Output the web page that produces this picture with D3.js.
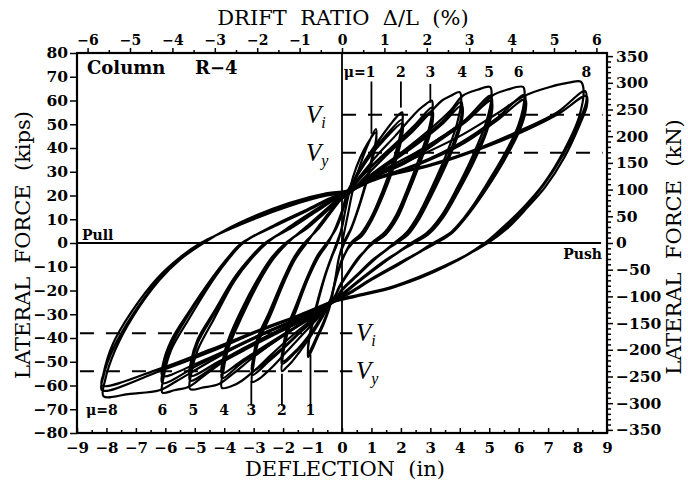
<!DOCTYPE html>
<html>
<head>
<meta charset="utf-8">
<script src="https://cdn.jsdelivr.net/npm/d3@7"></script>
<style>
  html, body { margin: 0; padding: 0; background: #fff; }
  svg { display: block; }
  text { fill: #000; }
</style>
</head>
<body>
<svg id="chart" width="688" height="485"></svg>
<script>
// ---- axis values ----
const deflectionTicks = [-9, -8, -7, -6, -5, -4, -3, -2, -1, 0, 1, 2, 3, 4, 5, 6, 7, 8, 9];
const forceTicks = [-80, -70, -60, -50, -40, -30, -20, -10, 0, 10, 20, 30, 40, 50, 60, 70, 80];
const driftTicks = [-6, -5, -4, -3, -2, -1, 0, 1, 2, 3, 4, 5, 6];
const kNLabels = [-350, -300, -250, -200, -150, -100, -50, 0, 50, 100, 150, 200, 250, 300, 350];
const columnHeight = 144;   // in, converts drift ratio to deflection
const kNPerKip = 4.448;

// ---- reference force levels (kips) ----
const pushLevels = [{ name: "i", force: 54 }, { name: "y", force: 38 }];
const pullLevels = [{ name: "i", force: -38 }, { name: "y", force: -54 }];

// ---- ductility markers: label position (in), marker line top/bottom force (kips) ----
const pushDuctility = [
  { label: "μ=1", d: 1.0, from: 68, to: 46 },
  { label: "2", d: 2.0, from: 68, to: 57 },
  { label: "3", d: 3.0, from: 67, to: 59 },
  { label: "4", d: 4.08 }, { label: "5", d: 5.0 }, { label: "6", d: 6.0 }, { label: "8", d: 8.3 }
];
const pullDuctility = [
  { label: "μ=8", d: -7.75 }, { label: "6", d: -6.1 }, { label: "5", d: -5.05 }, { label: "4", d: -4.0 },
  { label: "3", d: -3.08, from: -58, to: -68.5 },
  { label: "2", d: -2.04, from: -55, to: -68.5 },
  { label: "1", d: -1.07, from: -47, to: -68.5 }
];

// ---- load history [deflection (in), lateral force (kips)] ----
const cyclesMu1 = [
  [0,0],[0.2,12],[0.4,24],[0.65,34],[0.9,42],[1.15,48],
  [1.16,44],[1.02,36],[0.82,26],[0.56,15],[0.3,6],[0.05,0],[-0.1,-6],[-0.2,-13],[-0.3,-20],[-0.42,-27],
  [-0.62,-34],[-0.84,-40],[-1.0,-44.5],[-1.15,-48],
  [-1.13,-42],[-1.0,-34],[-0.8,-24],[-0.55,-13],[-0.35,-6],[-0.15,0],[0,7],[0.1,13],[0.22,20],
  [0.38,28],[0.62,36],[0.87,42],[1.15,46.5],
  [1.16,42.5],[1.02,34.5],[0.82,25],[0.56,14.5],[0.3,5.5],[0.08,0],[-0.1,-6],[-0.2,-13],[-0.3,-20],[-0.42,-26.5],
  [-0.62,-33],[-0.86,-39.5],[-1.15,-46.5],
  [-1.13,-41],[-1.0,-33],[-0.8,-23],[-0.55,-12.5],[-0.35,-5.5],[-0.18,0],[0,6.5],[0.1,13],[0.2,20]
];
const cyclesMu2 = [
  [0.5,29],[0.95,38],[1.35,45],[1.65,50],[1.85,53],[2.04,55],
  [2.06,52],[1.95,44],[1.7,33],[1.35,21],[1.0,11],[0.65,4],[0.3,0],[0.05,-6],[-0.15,-13],[-0.3,-20],[-0.4,-25],
  [-0.7,-32],[-1.1,-40],[-1.45,-46],[-1.7,-50],[-1.9,-52.5],[-2.04,-54],
  [-2.0,-47],[-1.85,-38],[-1.55,-28],[-1.15,-15],[-0.8,-6],[-0.47,0],[-0.2,7],[0,13.5],[0.1,18],[0.2,22],
  [0.5,28.5],[0.95,37],[1.4,44],[2.04,52],
  [2.06,49.5],[1.96,42],[1.72,32],[1.37,20],[1.02,10.5],[0.67,3.5],[0.33,0],[0.05,-6],[-0.15,-13],[-0.3,-20],[-0.4,-24.5],
  [-0.7,-31.5],[-1.1,-39],[-1.5,-45],[-2.04,-51],
  [-2.0,-45],[-1.86,-37],[-1.56,-27],[-1.16,-14.5],[-0.81,-5.5],[-0.5,0],[-0.2,6.5],[0,13],[0.1,17.5],[0.2,21.5],
  [0.5,28],[0.95,36.5],[1.4,43],[2.05,50.5],
  [2.07,48],[1.97,41],[1.73,31],[1.38,19.5],[1.03,10],[0.68,3],[0.36,0],[0.05,-5.5],[-0.15,-12.5],[-0.3,-19.5],[-0.4,-24],
  [-0.7,-31],[-1.1,-38.5],[-1.5,-44.5],[-2.04,-50],
  [-2.0,-44],[-1.87,-36],[-1.57,-26.5],[-1.17,-14],[-0.82,-5],[-0.52,0],[-0.2,6],[0,12.5],[0.1,17],[0.15,21]
];
const cyclesMu3 = [
  [0.6,28],[1.2,37],[1.8,45],[2.3,52],[2.6,56],[2.85,58.5],[3.05,60],
  [3.08,57],[2.95,48],[2.6,35],[2.2,22],[1.85,12],[1.45,4.5],[1.0,0],[0.6,-6],[0.2,-13],[-0.1,-19],[-0.25,-23],
  [-0.7,-30],[-1.3,-38],[-1.9,-46],[-2.35,-52],[-2.65,-55.5],[-2.85,-57.5],[-3.05,-58.5],
  [-3.0,-51],[-2.85,-42],[-2.45,-31],[-1.95,-16],[-1.6,-7],[-1.2,0],[-0.8,7],[-0.4,13.5],[-0.05,19],[0.15,21],
  [0.6,27.5],[1.3,36],[2.0,44],[2.5,50],[3.05,57],
  [3.08,54],[2.96,46],[2.62,33.5],[2.22,21],[1.87,11],[1.47,4],[1.05,0],[0.6,-6],[0.2,-13],[-0.1,-19],[-0.25,-23],
  [-0.7,-29.5],[-1.4,-37.5],[-2.0,-44.5],[-2.5,-50],[-3.05,-55.6],
  [-3.0,-49],[-2.86,-40.5],[-2.46,-29.5],[-1.96,-15],[-1.62,-6.5],[-1.25,0],[-0.8,6.5],[-0.4,13],[-0.05,18.5],[0.15,20.5],
  [0.6,27],[1.3,35.5],[2.0,43],[2.5,49],[3.07,55.5],
  [3.09,52.5],[2.97,45],[2.63,33],[2.23,20.5],[1.88,10.5],[1.48,3.5],[1.08,0],[0.6,-5.5],[0.2,-12.5],[-0.1,-18.5],[-0.25,-22.5],
  [-0.7,-29],[-1.4,-37],[-2.0,-44],[-2.5,-49],[-3.05,-54],
  [-3.01,-48],[-2.87,-40],[-2.47,-29],[-1.97,-14.5],[-1.63,-6],[-1.28,0],[-0.8,6],[-0.4,12.5],[-0.05,18],[0.15,20]
];
const cyclesMu4 = [
  [0.8,28],[1.6,38],[2.4,47],[3.0,55],[3.4,60],[3.7,62],[4.0,63.5],
  [4.05,60],[3.9,50],[3.5,36],[3.0,22],[2.6,12],[2.2,4.5],[1.77,0],[1.1,-7],[0.5,-14],[0,-20],[-0.2,-23.5],
  [-0.8,-30],[-1.6,-38],[-2.4,-47],[-3.0,-54],[-3.4,-58],[-3.7,-60],[-4.08,-61],
  [-4.03,-54],[-3.85,-44],[-3.4,-31],[-2.8,-16],[-2.35,-7],[-1.85,0],[-1.2,7],[-0.6,13.5],[-0.1,19],[0.15,21],
  [0.8,27],[1.8,35.5],[2.7,44],[3.4,51],[4.05,59.5],
  [4.08,56],[3.92,47],[3.52,34],[3.02,21],[2.62,11],[2.22,4],[1.82,0],[1.1,-7],[0.5,-14],[0,-20],[-0.2,-23.5],
  [-0.8,-29.5],[-1.8,-37.5],[-2.7,-45],[-3.4,-50.5],[-4.08,-57],
  [-4.04,-51],[-3.86,-42],[-3.42,-29.5],[-2.82,-15],[-2.37,-6.5],[-1.9,0],[-1.2,6.5],[-0.6,13],[-0.1,18.5],[0.15,20.5],
  [0.8,26.5],[1.8,35],[2.7,43],[3.4,50],[4.07,58],
  [4.1,54],[3.94,45.5],[3.54,33],[3.04,20],[2.64,10.5],[2.24,3.5],[1.85,0],[1.1,-6.5],[0.5,-13.5],[0,-19.5],[-0.2,-23],
  [-0.8,-29],[-1.8,-37],[-2.7,-44],[-3.4,-49.5],[-4.08,-55],
  [-4.05,-49.5],[-3.87,-41],[-3.43,-28.5],[-2.83,-14.5],[-2.38,-6],[-1.92,0],[-1.2,6],[-0.6,12.5],[-0.1,18],[0.15,20]
];
const cyclesMu5 = [
  [0.9,28],[2.0,38],[3.0,48],[3.7,56],[4.1,62],[4.6,64.5],[5.03,65.7],
  [5.08,62],[4.9,51],[4.45,37],[3.9,23],[3.4,12],[2.9,4.5],[2.35,0],[1.5,-7.5],[0.7,-15],[0.1,-21],[-0.2,-24],
  [-1.0,-31],[-2.0,-39],[-3.0,-48],[-3.7,-55],[-4.2,-59.5],[-4.7,-60.8],[-5.16,-61.5],
  [-5.12,-55],[-4.9,-45],[-4.35,-32],[-3.65,-16],[-3.1,-7],[-2.55,0],[-1.7,7.5],[-0.9,14],[-0.2,19.5],[0.15,21],
  [0.9,27],[2.2,35],[3.3,44],[4.2,52],[5.05,62],
  [5.1,58],[4.9,48],[4.45,35],[3.9,22],[3.4,11],[2.9,4],[2.4,0],[1.5,-7.5],[0.7,-15],[0.1,-21],[-0.2,-24],
  [-1.0,-30.5],[-2.2,-38],[-3.3,-45],[-4.2,-51],[-5.16,-58],
  [-5.13,-52],[-4.9,-42],[-4.35,-30],[-3.65,-15],[-3.1,-6.5],[-2.6,0],[-1.7,7],[-0.9,13.5],[-0.2,19],[0.15,20.5],
  [0.9,26.5],[2.2,34],[3.3,43],[4.2,51],[5.07,60],
  [5.1,56],[4.92,47],[4.47,34],[3.92,21],[3.42,10.5],[2.92,3.5],[2.45,0],[1.5,-7],[0.7,-14.5],[0.1,-20.5],[-0.2,-23.5],
  [-1.0,-30],[-2.2,-37],[-3.3,-44],[-4.2,-50],[-5.16,-56],
  [-5.13,-50],[-4.9,-40.5],[-4.35,-29],[-3.65,-14.5],[-3.1,-6],[-2.62,0],[-1.7,6.5],[-0.9,13],[-0.2,18.5],[0.15,20]
];
const cyclesMu6 = [
  [1.0,28],[2.5,38],[3.8,48],[4.6,56],[5.1,62],[5.6,64.5],[6.15,65.7],
  [6.2,62],[6.0,50],[5.5,37],[4.9,24.5],[4.35,14],[3.75,5],[3.1,0],[2.0,-8.5],[1.0,-15.5],[0.3,-21],[-0.2,-24],
  [-1.2,-31],[-2.5,-39],[-3.8,-48],[-4.7,-56],[-5.2,-60.5],[-5.7,-62],[-6.1,-63],
  [-6.05,-56],[-5.8,-45],[-5.2,-32],[-4.4,-16],[-3.9,-7.5],[-3.35,0],[-2.3,7.5],[-1.2,14],[-0.3,19.5],[0.15,21],
  [1.0,26.5],[2.5,33],[4.0,42],[5.2,52],[6.2,62.3],
  [6.22,58],[6.0,48],[5.5,36],[4.9,23.5],[4.3,13],[3.7,4.5],[3.15,0],[2.0,-8.5],[1.0,-15.5],[0.3,-21],[-0.2,-24],
  [-1.2,-30.5],[-2.5,-37.5],[-3.8,-45],[-4.9,-51.5],[-6.1,-59],
  [-6.07,-53],[-5.8,-43],[-5.2,-30],[-4.4,-15],[-3.9,-7],[-3.38,0],[-2.3,7.5],[-1.2,14],[-0.3,19.5],[0.15,21],
  [1.0,26],[2.5,32.5],[4.0,41],[5.2,51],[6.22,60.5],
  [6.24,56],[6.02,47],[5.52,35],[4.92,23],[4.32,12.5],[3.72,4],[3.2,0],[2.0,-8],[1.0,-15],[0.3,-20.5],[-0.2,-23.5],
  [-1.2,-30],[-2.5,-37],[-3.8,-44.5],[-4.9,-50.5],[-6.1,-56],
  [-6.08,-51],[-5.8,-41],[-5.2,-29],[-4.4,-14.5],[-3.9,-6.5],[-3.4,0],[-2.3,7],[-1.2,13.5],[-0.3,19],[0.15,20.5]
];
const cyclesMu8 = [
  [1.0,28],[2.5,36],[4.0,45],[5.2,54],[6.2,62],[7.0,65.5],[7.7,67.5],[8.1,68],
  [8.2,65],[8.05,53],[7.5,38],[6.85,25],[6.2,15.5],[5.5,7],[4.85,0],[3.5,-10],[1.8,-18.5],[0.5,-22.5],[-0.2,-24.5],
  [-1.5,-32],[-3.0,-40],[-4.5,-50],[-5.6,-58],[-6.2,-62],[-7.2,-63.5],[-8.1,-64.5],
  [-8.05,-58],[-7.7,-45],[-7.1,-31],[-6.2,-15.6],[-5.5,-7],[-4.7,0],[-3.5,8.4],[-1.8,16.8],[-0.5,21],[0.15,22],
  [1.0,27],[3.0,33],[4.35,38.5],[5.8,46],[7.3,55],[8.25,64],
  [8.3,60],[8.05,51],[7.5,37],[6.85,24.5],[6.25,15.5],[5.55,6.5],[4.9,0],[3.5,-10],[1.8,-18],[0.5,-22.5],[-0.2,-24.5],
  [-1.5,-31],[-2.8,-37],[-4.5,-46],[-6.2,-54],[-8.15,-62],
  [-8.1,-56],[-7.75,-44],[-7.1,-30],[-6.2,-15],[-5.5,-6.5],[-4.75,0],[-3.5,8],[-1.8,16],[-0.5,20.5],[0.15,21.5],
  [1.0,26.5],[3.0,32.5],[4.35,38],[5.8,45],[7.3,54],[8.3,62],
  [8.32,58],[8.08,50],[7.55,36],[6.9,23.5],[6.3,15],[5.6,6],[4.95,0],[3.5,-9.5],[1.8,-18],[0.5,-22],[-0.2,-24],
  [-1.5,-30.5],[-2.8,-36.5],[-4.5,-45],[-6.2,-53],[-8.15,-60],
  [-8.1,-55],[-7.8,-43],[-7.15,-29],[-6.25,-14.5],[-5.5,-6],[-4.8,0],[-3.5,7.5],[-1.8,15.5],[-0.5,20],[0.1,21]
];
const loadHistory = [cyclesMu1, cyclesMu2, cyclesMu3, cyclesMu4, cyclesMu5, cyclesMu6, cyclesMu8];

// ---- layout ----
const svg = d3.select("#chart");
const plot = { left: 77, right: 607, top: 53, bottom: 433 };
const serif = "'DejaVu Serif', serif";

const x = d3.scaleLinear().domain([-9, 9]).range([plot.left, plot.right]);
const y = d3.scaleLinear().domain([-80, 80]).range([plot.bottom, plot.top]);
const xDrift = d3.scaleLinear()
  .domain([-900 / columnHeight, 900 / columnHeight]).range([plot.left, plot.right]);
const yKN = d3.scaleLinear()
  .domain([-80 * kNPerKip, 80 * kNPerKip]).range([plot.bottom, plot.top]);

const minus = v => (v < 0 ? "\u2212" + Math.abs(v) : String(v));

// ---- hysteresis loops ----
const line = d3.line()
  .x(p => x(p[0])).y(p => y(p[1]))
  .curve(d3.curveCatmullRom.alpha(0.5));

const loops = svg.append("g").attr("class", "loops");
let previous = null;
loadHistory.forEach(level => {
  const pts = previous ? [previous].concat(level) : level;
  loops.append("path")
    .attr("d", line(pts))
    .attr("fill", "none")
    .attr("stroke", "#000")
    .attr("stroke-width", 2.2)
    .attr("stroke-linejoin", "round");
  previous = level[level.length - 1];
});

// ---- zero lines ----
svg.append("line")
  .attr("x1", x(-9)).attr("x2", x(8.8)).attr("y1", y(0)).attr("y2", y(0))
  .attr("stroke", "#000").attr("stroke-width", 2);
svg.append("line")
  .attr("x1", x(0)).attr("x2", x(0)).attr("y1", y(80)).attr("y2", y(-80))
  .attr("stroke", "#000").attr("stroke-width", 1.8);

// ---- reference force levels ----
const dashed = svg.append("g").attr("stroke", "#000").attr("stroke-width", 2.2)
  .attr("stroke-dasharray", "14,12");
pushLevels.forEach(l => {
  dashed.append("line").attr("x1", x(0)).attr("x2", x(8.85))
    .attr("y1", y(l.force)).attr("y2", y(l.force));
});
pullLevels.forEach(l => {
  dashed.append("line").attr("x1", x(-8.9)).attr("x2", x(0.35))
    .attr("y1", y(l.force)).attr("y2", y(l.force));
});

function vLabel(xp, yp, sub) {
  const t = svg.append("text").attr("x", xp).attr("y", yp)
    .attr("font-family", "'Liberation Serif', serif").attr("font-style", "italic")
    .attr("font-size", 25);
  t.append("tspan").text("V");
  t.append("tspan").attr("font-size", 16).attr("dy", 5).text(sub);
}
pushLevels.forEach(l => vLabel(x(0) - 36, y(l.force) + 8, l.name));
pullLevels.forEach(l => vLabel(x(0) + 14, y(l.force) + 8, l.name));

// ---- ductility markers ----
const marks = svg.append("g").attr("stroke", "#000").attr("stroke-width", 1.8);
pushDuctility.filter(m => m.from !== undefined).forEach(m => {
  marks.append("line").attr("x1", x(m.d)).attr("x2", x(m.d))
    .attr("y1", y(m.from)).attr("y2", y(m.to));
});
pullDuctility.filter(m => m.from !== undefined).forEach(m => {
  marks.append("line").attr("x1", x(m.d)).attr("x2", x(m.d))
    .attr("y1", y(m.from)).attr("y2", y(m.to));
});
svg.append("g").selectAll("text").data(pushDuctility).join("text")
  .attr("x", m => x(m.d) + (m.label.length > 1 ? 4 : 0))
  .attr("y", 77)
  .attr("text-anchor", m => (m.label.length > 1 ? "end" : "middle"))
  .attr("font-family", serif).attr("font-weight", "bold").attr("font-size", 14)
  .text(m => m.label);
svg.append("g").selectAll("text").data(pullDuctility).join("text")
  .attr("x", m => x(m.d) + (m.label.length > 1 ? 4 : 0))
  .attr("y", 415)
  .attr("text-anchor", m => (m.label.length > 1 ? "end" : "middle"))
  .attr("font-family", serif).attr("font-weight", "bold").attr("font-size", 14)
  .text(m => m.label);

// ---- frame ----
svg.append("rect")
  .attr("x", plot.left).attr("y", plot.top)
  .attr("width", plot.right - plot.left).attr("height", plot.bottom - plot.top)
  .attr("fill", "none").attr("stroke", "#000").attr("stroke-width", 2.2);

// ---- axes ----
function styleAxis(g, size) {
  g.select(".domain").remove();
  g.selectAll(".tick line").attr("stroke", "#000").attr("stroke-width", 1.5);
  g.selectAll(".tick text")
    .attr("font-family", serif).attr("font-weight", "bold").attr("font-size", size)
    .attr("fill", "#000");
}

// bottom: deflection
const xBottom = svg.append("g").attr("transform", `translate(0,${plot.bottom})`)
  .call(d3.axisBottom(x).tickValues(deflectionTicks).tickSize(-5).tickPadding(9).tickFormat(minus));
styleAxis(xBottom, 15);
svg.append("g").attr("transform", `translate(0,${plot.bottom})`)
  .call(d3.axisBottom(x).tickValues(deflectionTicks.slice(0, -1).map(v => v + 0.5)).tickSize(-3).tickFormat(""))
  .call(g => styleAxis(g, 15));

// top: drift ratio
const xTop = svg.append("g").attr("transform", `translate(0,${plot.top})`)
  .call(d3.axisTop(xDrift).tickValues(driftTicks).tickSize(5).tickPadding(3).tickFormat(minus));
styleAxis(xTop, 14);
svg.append("g").attr("transform", `translate(0,${plot.top})`)
  .call(d3.axisTop(xDrift).tickValues(driftTicks.slice(0, -1).map(v => v + 0.5)).tickSize(3).tickFormat(""))
  .call(g => styleAxis(g, 14));

// left: kips
const yLeft = svg.append("g").attr("transform", `translate(${plot.left},0)`)
  .call(d3.axisLeft(y).tickValues(forceTicks).tickSize(7).tickPadding(2).tickFormat(minus));
styleAxis(yLeft, 15.5);

// right: kN
const yRight = svg.append("g").attr("transform", `translate(${plot.right},0)`)
  .call(d3.axisRight(yKN).tickValues(kNLabels).tickSize(6).tickPadding(3).tickFormat(minus));
styleAxis(yRight, 15.5);
const kNMinor = [];
kNLabels.slice(0, -1).forEach(v => { [10, 20, 30, 40].forEach(s => kNMinor.push(v + s)); });
svg.append("g").attr("transform", `translate(${plot.right},0)`)
  .call(d3.axisRight(yKN).tickValues(kNMinor).tickSize(4).tickFormat(""))
  .call(g => styleAxis(g, 15));

// ---- titles ----
svg.append("text").attr("x", 343).attr("y", 25).attr("text-anchor", "middle")
  .attr("font-family", serif).attr("font-size", 21).style("white-space", "pre")
  .text("DRIFT  RATIO  \u0394/L  (%)");
svg.append("text").attr("x", 345).attr("y", 476).attr("text-anchor", "middle")
  .attr("font-family", serif).attr("font-size", 21).style("white-space", "pre")
  .text("DEFLECTION  (in)");
svg.append("text").attr("transform", "translate(30,245) rotate(-90)").attr("text-anchor", "middle")
  .attr("font-family", serif).attr("font-size", 21).style("white-space", "pre")
  .text("LATERAL  FORCE  (kips)");
svg.append("text").attr("transform", "translate(681,247) rotate(-90)").attr("text-anchor", "middle")
  .attr("font-family", serif).attr("font-size", 21).style("white-space", "pre")
  .text("LATERAL  FORCE  (kN)");

// ---- annotations ----
svg.append("text").attr("x", 87).attr("y", 74)
  .attr("font-family", serif).attr("font-weight", "bold").attr("font-size", 18).text("Column");
svg.append("text").attr("x", 195).attr("y", 74)
  .attr("font-family", serif).attr("font-weight", "bold").attr("font-size", 18).text("R\u22124");
svg.append("text").attr("x", 82).attr("y", 240)
  .attr("font-family", serif).attr("font-weight", "bold").attr("font-size", 14).text("Pull");
svg.append("text").attr("x", 602).attr("y", 259).attr("text-anchor", "end")
  .attr("font-family", serif).attr("font-weight", "bold").attr("font-size", 14).text("Push");
</script>
</body>
</html>
